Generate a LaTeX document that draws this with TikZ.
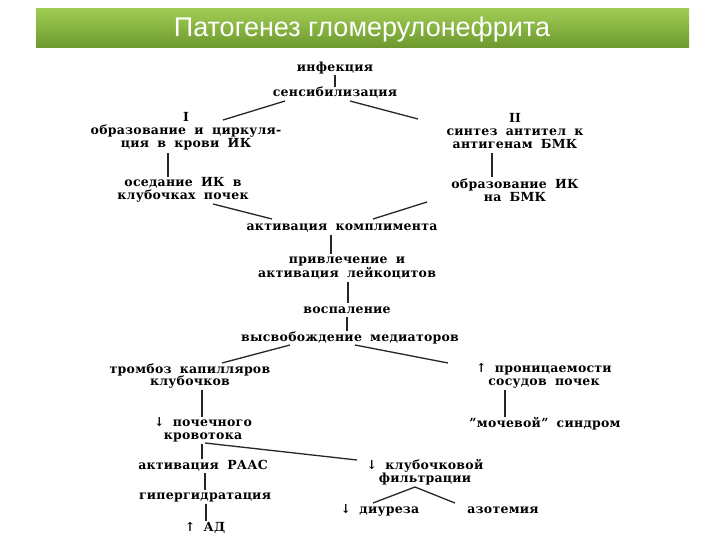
\documentclass[tikz,border=0pt]{standalone}
\usepackage{fontspec}
\setmainfont{DejaVu Serif}[LetterSpace=2,WordSpace=1.8]
\newfontfamily\titlefont{Liberation Sans}
\begin{document}
\begin{tikzpicture}[x=1pt,y=-1pt,
  lbl/.style={font=\fontsize{12.5}{12.8}\selectfont\bfseries, align=center, inner sep=1pt},
  ln/.style={line width=1.3pt, black!85}]
\useasboundingbox (0,0) rectangle (720,540);
\fill[white] (0,0) rectangle (720,540);
\shade[top color={rgb,255:red,160;green,204;blue,84}, bottom color={rgb,255:red,108;green,152;blue,46}] (36,9) rectangle (689,48);
\node[font=\titlefont\fontsize{27}{30}\selectfont, text=white] (title) at (362,30) {Патогенез гломерулонефрита};

\node[lbl] (inf) at (335,68) {инфекция};
\node[lbl] (sens) at (335,93) {сенсибилизация};
\node[lbl] (I) at (186,131) {I\\образование и циркуля-\\ция в крови ИК};
\node[lbl] (II) at (515,131) {II\\синтез антител к\\антигенам БМК};
\node[lbl] (osed) at (183,190) {оседание ИК в\\клубочках почек};
\node[lbl] (obr) at (515,190) {образование ИК\\на БМК};
\node[lbl] (akt) at (342,228) {активация комплимента};
\node[lbl] (priv) at (347,268) {привлечение и\\активация лейкоцитов};
\node[lbl] (vosp) at (347,310) {воспаление};
\node[lbl] (vysv) at (350,338) {высвобождение медиаторов};
\node[lbl] (tromb) at (190,376) {тромбоз капилляров\\клубочков};
\node[lbl] (pron) at (544,376) {↑ проницаемости\\сосудов почек};
\node[lbl] (poch) at (203,430) {↓ почечного\\кровотока};
\node[lbl] (moch) at (545,424) {"мочевой" синдром};
\node[lbl] (raas) at (203,466) {активация РААС};
\node[lbl] (klub) at (425,472) {↓ клубочковой\\фильтрации};
\node[lbl] (giper) at (205,497) {гипергидратация};
\node[lbl] (diur) at (380,510) {↓ диуреза};
\node[lbl] (azot) at (503,510) {азотемия};
\node[lbl] (ad) at (205,528) {↑ АД};

\draw[ln] ([shift={(0,7)}]inf.center) -- ([shift={(0,-6)}]sens.center);
\draw[ln] ([shift={(-50,8)}]sens.center) -- ([shift={(37,-11)}]I.center);
\draw[ln] ([shift={(15,8)}]sens.center) -- ([shift={(-97,-12)}]II.center);
\draw[ln] ([shift={(-18,22)}]I.center) -- ([shift={(-15,-13)}]osed.center);
\draw[ln] ([shift={(-23,22)}]II.center) -- ([shift={(-23,-13)}]obr.center);
\draw[ln] ([shift={(30,14)}]osed.center) -- ([shift={(-70,-9)}]akt.center);
\draw[ln] ([shift={(-88,12)}]obr.center) -- ([shift={(31,-9)}]akt.center);
\draw[ln] ([shift={(-11,7)}]akt.center) -- ([shift={(-16,-14)}]priv.center);
\draw[ln] ([shift={(1,14)}]priv.center) -- ([shift={(1,-7)}]vosp.center);
\draw[ln] ([shift={(0,7)}]vosp.center) -- ([shift={(-3,-7)}]vysv.center);
\draw[ln] ([shift={(-60,7)}]vysv.center) -- ([shift={(32,-13)}]tromb.center);
\draw[ln] ([shift={(5,7)}]vysv.center) -- ([shift={(-96,-13)}]pron.center);
\draw[ln] ([shift={(12,14)}]tromb.center) -- ([shift={(-1,-13)}]poch.center);
\draw[ln] ([shift={(-39,14)}]pron.center) -- ([shift={(-40,-7)}]moch.center);
\draw[ln] ([shift={(-1,14)}]poch.center) -- ([shift={(-1,-7)}]raas.center);
\draw[ln] ([shift={(2,13)}]poch.center) -- ([shift={(-68,-12)}]klub.center);
\draw[ln] ([shift={(2,7)}]raas.center) -- ([shift={(0,-7)}]giper.center);
\draw[ln] ([shift={(1,7)}]giper.center) -- ([shift={(1,-7)}]ad.center);
\draw[ln] ([shift={(-10,15)}]klub.center) -- ([shift={(-7,-7)}]diur.center);
\draw[ln] ([shift={(-10,15)}]klub.center) -- ([shift={(-48,-7)}]azot.center);
\end{tikzpicture}
\end{document}
